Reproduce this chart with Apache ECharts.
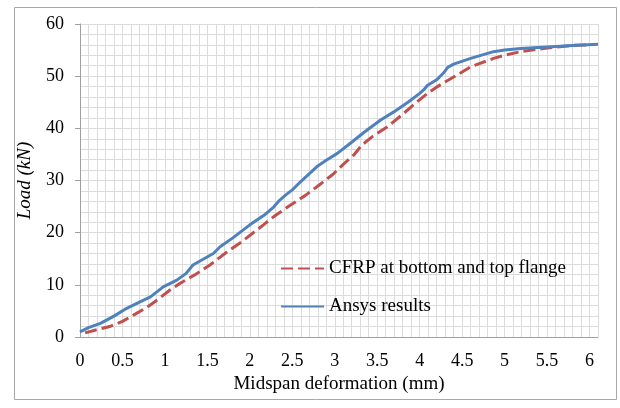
<!DOCTYPE html>
<html>
<head>
<meta charset="utf-8">
<script src="https://cdn.jsdelivr.net/npm/echarts@6/dist/echarts.min.js"></script>
<style>
html,body{margin:0;padding:0;background:#fff;}
#c{width:620px;height:408px;}
</style>
</head>
<body>
<div id="c"></div>
<script>
var ansysDef  = [0, 0.1, 0.24, 0.4, 0.55, 0.7, 0.83, 0.98, 1.14, 1.25, 1.33, 1.45, 1.57, 1.65, 1.8, 2.0, 2.18, 2.28, 2.35, 2.42, 2.5, 2.6, 2.8, 2.9, 3.03, 3.18, 3.35, 3.54, 3.7, 3.87, 4.0, 4.05, 4.09, 4.2, 4.28, 4.33, 4.4, 4.6, 4.87, 5.0, 5.19, 5.5, 5.8, 6.1];
var ansysLoad = [1.0, 1.8, 2.6, 4.0, 5.5, 6.7, 7.7, 9.6, 10.9, 12.2, 13.8, 14.9, 16.0, 17.3, 19.0, 21.5, 23.5, 24.9, 26.2, 27.2, 28.2, 29.8, 32.8, 33.9, 35.2, 37.1, 39.3, 41.6, 43.2, 45.1, 46.7, 47.4, 48.2, 49.3, 50.6, 51.7, 52.3, 53.4, 54.7, 55.0, 55.3, 55.6, 55.9, 56.1];
var cfrpDef  = [0.06, 0.2, 0.35, 0.5, 0.63, 0.78, 0.91, 1.06, 1.18, 1.35, 1.53, 1.73, 1.9, 2.16, 2.3, 2.48, 2.65, 2.79, 2.98, 3.1, 3.22, 3.32, 3.45, 3.62, 3.8, 3.97, 4.1, 4.19, 4.28, 4.45, 4.6, 4.87, 5.0, 5.19, 5.5, 5.8, 6.0];
var cfrpLoad = [0.8, 1.4, 2.0, 3.0, 4.2, 5.6, 7.1, 9.0, 10.3, 11.9, 13.8, 16.3, 18.2, 21.5, 23.3, 25.3, 27.1, 28.8, 31.2, 33.1, 34.8, 36.8, 38.5, 40.3, 42.7, 45.1, 46.8, 47.8, 48.7, 50.3, 51.8, 53.4, 54.0, 54.7, 55.4, 55.9, 56.0];
var seriesNames = ['CFRP at bottom and top flange', 'Ansys results'];
var xTitle = 'Midspan deformation (mm)';
var yTitle = 'Load (kN)';

function pairs(xs, ys){ return xs.map(function(x,i){ return [x, ys[i]]; }); }

var FONT = '"Liberation Serif", "DejaVu Serif", serif';
var chart = echarts.init(document.getElementById('c'), null, {renderer:'canvas'});
chart.setOption({
  animation: false,
  backgroundColor: '#ffffff',
  graphic: [
    {type:'rect', shape:{x:14.5, y:7.5, width:602, height:392}, style:{fill:'none', stroke:'#a8a8a8', lineWidth:1}, z:-10}
  ],
  grid: {left: 80, right: 22, top: 24, bottom: 71, containLabel: false},
  legend: {
    orient: 'vertical',
    left: 275, top: 254,
    itemWidth: 43, itemHeight: 14, itemGap: 19,
    itemStyle: {opacity: 0},
    textStyle: {fontFamily: FONT, fontSize: 19, color: '#000'},
    data: seriesNames
  },
  xAxis: {
    type: 'value', min: 0, max: 6.1, interval: 0.5,
    name: xTitle, nameLocation: 'middle', nameGap: 38,
    nameTextStyle: {fontFamily: FONT, fontSize: 19, color: '#000'},
    axisLine: {show: true, lineStyle: {color: '#a0a0a0', width: 1}},
    axisTick: {show: false},
    axisLabel: {fontFamily: FONT, fontSize: 18, color: '#000', margin: 15, showMaxLabel: false},
    splitLine: {show: true, lineStyle: {color: '#dcdcdc', width: 1}},
    minorSplitLine: {show: true, lineStyle: {color: '#dcdcdc', width: 1}},
    minorTick: {show: false, splitNumber: 5}
  },
  yAxis: {
    type: 'value', min: 0, max: 60, interval: 10,
    name: yTitle, nameLocation: 'middle', nameGap: 46, nameRotate: 90,
    nameTextStyle: {fontFamily: FONT, fontSize: 19, fontStyle: 'italic', color: '#000'},
    axisLine: {show: true, lineStyle: {color: '#a0a0a0', width: 1}},
    axisTick: {show: true, length: 5, lineStyle: {color: '#a0a0a0'}},
    axisLabel: {fontFamily: FONT, fontSize: 18, color: '#000', margin: 16},
    splitLine: {show: true, lineStyle: {color: '#dcdcdc', width: 1}},
    minorSplitLine: {show: true, lineStyle: {color: '#dcdcdc', width: 1}},
    minorTick: {show: false, splitNumber: 5}
  },
  series: [
    {
      name: seriesNames[0], type: 'line', symbol: 'none', smooth: false,
      data: pairs(cfrpDef, cfrpLoad),
      lineStyle: {color: '#c0504d', width: 3, type: [12, 5]},
      itemStyle: {color: '#c0504d'},
      z: 2
    },
    {
      name: seriesNames[1], type: 'line', symbol: 'none', smooth: false,
      data: pairs(ansysDef, ansysLoad),
      lineStyle: {color: '#4f81bd', width: 3},
      itemStyle: {color: '#4f81bd'},
      z: 3
    }
  ]
});
</script>
</body>
</html>
